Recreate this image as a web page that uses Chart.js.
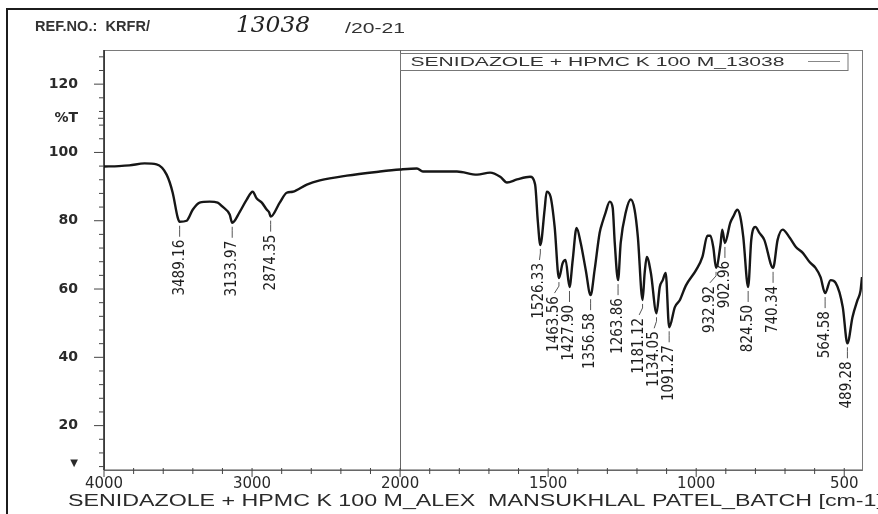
<!DOCTYPE html>
<html>
<head>
<meta charset="utf-8">
<title>IR spectrum</title>
<script src="https://cdn.jsdelivr.net/npm/chart.js@4.4.1/dist/chart.umd.min.js"></script>
<style>
  html, body { margin: 0; padding: 0; background: #fff; }
  #wrap { position: relative; width: 878px; height: 514px; overflow: hidden; }
  #frame { position: absolute; left: 6px; top: 8px; width: 900px; height: 520px;
           border-left: 2px solid #1c1c1c; border-top: 2px solid #1c1c1c; pointer-events: none; }
</style>
</head>
<body>
<div id="wrap">
  <canvas id="irChart" width="878" height="514"></canvas>
  <div id="frame"></div>
</div>
<script>
// spectrum trace, wavenumber (cm-1) against %T
const wavenumbers = [
    4000, 3900, 3828, 3726, 3645, 3577, 3536, 3502, 3489.16, 3442,
    3401, 3354, 3286, 3232, 3199, 3151, 3133.97, 3083, 3036, 2996,
    2968, 2934, 2900, 2885, 2874.35, 2813, 2766, 2725, 2630, 2542,
    2360, 2136, 2000, 1943, 1923, 1808, 1740, 1696, 1662, 1639,
    1605, 1561, 1544, 1535, 1526.33, 1512, 1505, 1492, 1478, 1463.56,
    1451, 1441, 1427.90, 1417, 1404, 1390, 1373, 1356.58, 1343, 1326,
    1316, 1306, 1292, 1282, 1275, 1263.86, 1255, 1238, 1221, 1208,
    1197, 1181.12, 1174, 1167, 1153, 1134.05, 1123, 1113, 1103, 1091.27,
    1072, 1055, 1035, 1000, 979, 962, 952, 942, 932.92, 918,
    912, 902.96, 885, 875, 861, 851, 841, 824.50, 814, 800,
    787, 770, 740.34, 725, 708, 684, 664, 640, 617, 597,
    580, 564.58, 546, 529, 505, 489.28, 472, 455, 445, 440
];
const transmittance = [
    95.9, 96.0, 96.2, 96.8, 96.5, 93.5, 88.2, 80.9, 79.7, 80.0,
    83.2, 85.3, 85.6, 85.3, 84.1, 81.8, 79.4, 82.6, 86.2, 88.5,
    86.5, 85.3, 83.2, 82.5, 81.2, 85.3, 88.2, 88.5, 90.6, 91.8,
    93.2, 94.4, 95.0, 95.3, 94.4, 94.4, 93.5, 94.1, 92.9, 91.2,
    92.1, 92.9, 90.6, 80.0, 72.9, 83.2, 88.5, 87.1, 78.2, 63.2,
    67.6, 68.5, 60.6, 68.5, 77.9, 73.5, 65.6, 58.2, 65.6, 76.5,
    79.7, 82.4, 85.6, 83.8, 73.5, 62.6, 73.5, 82.4, 86.2, 83.2,
    75.3, 56.8, 64.7, 69.4, 64.7, 52.9, 60.6, 62.6, 64.7, 48.8,
    54.7, 56.8, 61.0, 65.6, 69.4, 75.6, 75.6, 72.1, 66.2, 72.9,
    77.4, 73.5, 79.4, 81.2, 83.2, 81.2, 75.3, 60.6, 74.4, 78.2,
    76.5, 74.4, 66.2, 74.4, 77.4, 75.0, 72.4, 70.6, 67.9, 66.2,
    63.5, 58.8, 62.6, 61.8, 54.7, 44.1, 51.8, 56.8, 59.5, 63.5
];
// labelled band minima
const peakWavenumbers = [
    3489.16, 3133.97, 2874.35, 1526.33, 1463.56, 1427.90, 1356.58, 1263.86, 1181.12,
    1134.05, 1091.27, 932.92, 902.96, 824.50, 740.34, 564.58, 489.28
];
const xTickLabels = [4000, 3000, 2000, 1500, 1000, 500];
const yTickLabels = [20, 40, 60, 80, 100, 120];

const sampleName = 'SENIDAZOLE + HPMC K 100 M_13038';
const footerText = 'SENIDAZOLE + HPMC K 100 M_ALEX  MANSUKHLAL PATEL_BATCH';

// above 2000 cm-1 the axis runs at half scale
const toAxis = w => (w > 2000 ? 2000 + (w - 2000) / 2 : w);
const fromAxis = a => (a > 2000 ? 2000 + (a - 2000) * 2 : a);

const points = wavenumbers.map((w, i) => ({ x: toAxis(w), y: transmittance[i] }));

function fitText(ctx, text, x, y, width) {
    const w = ctx.measureText(text).width;
    ctx.save();
    ctx.translate(x, y);
    ctx.scale(width / w, 1);
    ctx.fillText(text, 0, 0);
    ctx.restore();
}

function line(ctx, x1, y1, x2, y2) {
    ctx.beginPath();
    ctx.moveTo(x1, y1);
    ctx.lineTo(x2, y2);
    ctx.stroke();
}

const spectrumDecor = {
    id: 'spectrumDecor',
    beforeDatasetsDraw(chart) {
        const { ctx, chartArea: a, scales: { x, y } } = chart;
        ctx.save();

        // plot frame
        ctx.strokeStyle = '#7a7a7a';
        ctx.lineWidth = 1;
        ctx.strokeRect(a.left + 0.5, a.top + 0.5, a.right - a.left, a.bottom - a.top);
        ctx.strokeStyle = '#2a2a2a';
        ctx.lineWidth = 1.6;
        line(ctx, a.left, a.top, a.left, a.bottom);
        ctx.strokeStyle = '#555';
        ctx.lineWidth = 1.2;
        line(ctx, a.left, a.bottom, a.right, a.bottom);

        // scale change at 2000
        ctx.strokeStyle = '#666';
        ctx.lineWidth = 1;
        const xd = Math.round(x.getPixelForValue(2000)) + 0.5;
        line(ctx, xd, a.top, xd, a.bottom);

        // y ticks
        ctx.strokeStyle = '#444';
        for (let v = 8; v <= 128; v += 4) {
            const py = y.getPixelForValue(v);
            const len = v % 20 === 0 ? 10 : 5;
            line(ctx, a.left - len, py, a.left, py);
        }
        line(ctx, a.left - 6, y.getPixelForValue(110), a.left, y.getPixelForValue(110));

        // x ticks
        const xMinor = [];
        for (let w = 4000; w >= 2000; w -= 200) xMinor.push(w);
        for (let w = 1900; w >= 500; w -= 100) xMinor.push(w);
        xMinor.forEach(w => {
            const px = x.getPixelForValue(toAxis(w));
            const len = xTickLabels.includes(w) ? 7 : 4;
            line(ctx, px, a.bottom - 2, px, a.bottom + len);
        });
        ctx.restore();
    },
    afterDatasetsDraw(chart) {
        const { ctx, chartArea: a, scales: { x } } = chart;
        const meta = chart.getDatasetMeta(0).data;
        ctx.save();

        // peak labels, spread out right to left so they don't collide
        const items = peakWavenumbers.map(w => {
            const el = meta[wavenumbers.indexOf(w)];
            return { text: w.toFixed(2), px: el.x, py: el.y, lx: el.x };
        });
        for (let k = items.length - 2; k >= 0; k--) {
            items[k].lx = Math.min(items[k].px, items[k + 1].lx - 15);
        }
        ctx.strokeStyle = '#555';
        ctx.lineWidth = 1;
        ctx.fillStyle = '#1e1e1e';
        ctx.font = "15px 'Liberation Sans Narrow', 'DejaVu Sans Condensed', sans-serif";
        ctx.textAlign = 'right';
        ctx.textBaseline = 'middle';
        items.forEach(it => {
            ctx.beginPath();
            ctx.moveTo(it.px, it.py + 4);
            ctx.lineTo(it.px, it.py + 8);
            ctx.lineTo(it.lx, it.py + 15);
            ctx.stroke();
            ctx.save();
            ctx.translate(it.lx, it.py + 18);
            ctx.rotate(-Math.PI / 2);
            ctx.fillText(it.text, 0, 0);
            ctx.restore();
        });

        // legend box
        const lx = Math.round(x.getPixelForValue(2000)) + 0.5;
        const lr = a.right - 14;
        ctx.strokeStyle = '#777';
        ctx.strokeRect(lx, a.top + 3.5, lr - lx, 17);
        ctx.textAlign = 'left';
        ctx.fillStyle = '#333';
        ctx.font = "13px 'Liberation Sans', Arial, sans-serif";
        fitText(ctx, sampleName, lx + 10, a.top + 12.5, 374);
        ctx.strokeStyle = '#888';
        line(ctx, lr - 40, a.top + 11.5, lr - 8, a.top + 11.5);

        // header
        ctx.fillStyle = '#333';
        ctx.font = "bold 15px 'Liberation Sans', Arial, sans-serif";
        fitText(ctx, 'REF.NO.:  KRFR/', 35, 27, 115);
        ctx.font = "15px 'Liberation Sans', Arial, sans-serif";
        fitText(ctx, '/20-21', 345, 29, 60);
        ctx.fillStyle = '#222';
        ctx.font = "italic 22px 'DejaVu Serif', serif";
        fitText(ctx, '13038', 236, 26, 74);

        // footer line with the sample description and unit
        ctx.fillStyle = '#2a2a2a';
        ctx.font = "16px 'Liberation Sans', Arial, sans-serif";
        const sx = 744 / ctx.measureText(footerText).width;
        ctx.save();
        ctx.translate(68, 502);
        ctx.scale(sx, 1);
        ctx.fillText(footerText + ' [cm-1]', 0, 0);
        ctx.restore();
        ctx.restore();
    }
};

new Chart(document.getElementById('irChart'), {
    type: 'line',
    data: {
        datasets: [{
            label: sampleName,
            data: points,
            borderColor: '#161616',
            borderWidth: 2.4,
            pointRadius: 0,
            fill: false,
            cubicInterpolationMode: 'monotone'
        }]
    },
    options: {
        responsive: false,
        devicePixelRatio: 1,
        animation: false,
        layout: { padding: { left: 0, right: 16, top: 50, bottom: 0 } },
        plugins: { legend: { display: false }, tooltip: { enabled: false } },
        scales: {
            x: {
                type: 'linear',
                reverse: true,
                min: 440,
                max: 3000,
                grid: { display: false },
                border: { display: false },
                afterFit: s => { s.height = 44; },
                afterBuildTicks: s => { s.ticks = xTickLabels.map(w => ({ value: toAxis(w) })); },
                ticks: {
                    autoSkip: false,
                    maxRotation: 0,
                    padding: -3,
                    color: '#2a2a2a',
                    font: { family: "'DejaVu Sans', sans-serif", size: 15 },
                    callback: v => String(fromAxis(v))
                }
            },
            y: {
                min: 7,
                max: 130,
                grid: { display: false },
                border: { display: false },
                afterFit: s => { s.width = 104; },
                afterBuildTicks: s => {
                    s.ticks = [9, ...yTickLabels, 110].map(v => ({ value: v }));
                },
                ticks: {
                    autoSkip: false,
                    padding: 18,
                    color: '#2a2a2a',
                    font: ctx => ({
                        family: "'DejaVu Sans', sans-serif",
                        weight: 'bold',
                        size: ctx.tick && ctx.tick.value === 9 ? 10 : 14
                    }),
                    callback: v => (v === 110 ? '%T' : v === 9 ? '▼' : String(v))
                }
            }
        }
    },
    plugins: [spectrumDecor]
});
</script>
</body>
</html>
